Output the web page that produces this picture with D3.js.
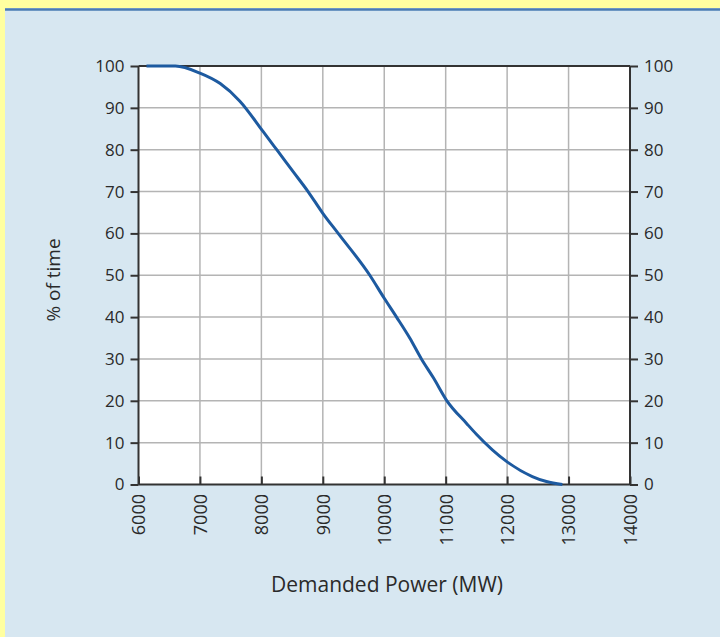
<!DOCTYPE html>
<html lang="en">
<head>
<meta charset="utf-8">
<title>Load duration curve</title>
<script src="https://d3js.org/d3.v7.min.js"></script>
<style>
    body { margin: 0; background: #ffffa0; }
    svg text { font-family: "Open Sans", sans-serif; fill: #2a2a2a; }
</style>
</head>
<body>
<script>
// demanded power (MW) vs % of time it is exceeded
var power = [6130, 6600, 7000, 7330, 7650, 8030, 8250, 8520, 8760, 9000, 9250, 9765, 10000, 10200, 10415, 10605, 10800, 11020, 11340, 11500, 12000, 12410, 12640, 12900];
var pct   = [100, 100, 98.3, 95.8, 91.6, 84.3, 80, 74.7, 70, 64.8, 60, 50, 44.5, 40, 35, 30, 25.5, 20, 14.6, 12, 5.4, 1.9, 0.7, 0];

var xTicks = [6000, 7000, 8000, 9000, 10000, 11000, 12000, 13000, 14000];
var yTicks = [0, 10, 20, 30, 40, 50, 60, 70, 80, 90, 100];

var W = 720, H = 637;
var pLeft = 138.5, pRight = 630, pTop = 66, pBottom = 484.5;

var svg = d3.select("body").append("svg")
    .attr("width", W).attr("height", H).style("display", "block");

// panel
svg.append("rect").attr("x", 5).attr("y", 8).attr("width", W - 5).attr("height", H - 8)
    .attr("fill", "#d7e7f1");
svg.append("line").attr("x1", 5).attr("x2", W).attr("y1", 9.5).attr("y2", 9.5)
    .attr("stroke", "#4a7cb3").attr("stroke-width", 2.5);

var x = d3.scaleLinear().domain([6000, 14000]).range([pLeft, pRight]);
var y = d3.scaleLinear().domain([0, 100]).range([pBottom, pTop]);

svg.append("rect").attr("x", pLeft).attr("y", pTop)
    .attr("width", pRight - pLeft).attr("height", pBottom - pTop).attr("fill", "#fff");

// grid
svg.append("g").selectAll("line").data(xTicks.slice(1, -1)).enter().append("line")
    .attr("x1", d => x(d)).attr("x2", d => x(d)).attr("y1", pTop).attr("y2", pBottom)
    .attr("stroke", "#b4b4b4").attr("stroke-width", 1.5);
svg.append("g").selectAll("line").data(yTicks.slice(1, -1)).enter().append("line")
    .attr("x1", pLeft).attr("x2", pRight).attr("y1", d => y(d)).attr("y2", d => y(d))
    .attr("stroke", "#b4b4b4").attr("stroke-width", 1.5);

// axes
var yl = svg.append("g").attr("transform", "translate(" + pLeft + ",0)")
    .call(d3.axisLeft(y).tickValues(yTicks).tickSize(8).tickPadding(6));
var yr = svg.append("g").attr("transform", "translate(" + pRight + ",0)")
    .call(d3.axisRight(y).tickValues(yTicks).tickSize(8).tickPadding(6));
var xb = svg.append("g").attr("transform", "translate(0," + pBottom + ")")
    .call(d3.axisBottom(x).tickValues(xTicks).tickSize(-8).tickFormat(d3.format("d")));
svg.append("line").attr("x1", pLeft).attr("x2", pRight).attr("y1", pTop).attr("y2", pTop)
    .attr("stroke", "#333").attr("stroke-width", 2);

[yl, yr, xb].forEach(function (g) {
    g.select(".domain").attr("stroke", "#333").attr("stroke-width", 2);
    g.selectAll(".tick line").attr("stroke", "#333").attr("stroke-width", 2);
    g.selectAll("text").style("font-size", "17px").attr("fill", "#2a2a2a");
});
yl.select(".domain").attr("d", "M0," + pTop + "V" + pBottom);
yr.select(".domain").attr("d", "M0," + pTop + "V" + pBottom);
xb.select(".domain").attr("d", "M" + pLeft + ",0H" + pRight);

xb.selectAll("text")
    .style("font-size", "18px")
    .attr("transform", "rotate(-90)")
    .attr("x", -9.5).attr("y", 0).attr("dy", "0.35em")
    .style("text-anchor", "end");

// curve
svg.append("path")
    .datum(power.map((p, i) => [p, pct[i]]))
    .attr("fill", "none").attr("stroke", "#1d5aa0").attr("stroke-width", 3)
    .attr("d", d3.line().x(d => x(d[0])).y(d => y(d[1])).curve(d3.curveMonotoneX));

// titles
svg.append("text").attr("transform", "translate(60,280) rotate(-90)")
    .attr("text-anchor", "middle").style("font-size", "19px").text("% of time");
svg.append("text").attr("x", 387).attr("y", 592)
    .attr("text-anchor", "middle").style("font-size", "21px").text("Demanded Power (MW)");
</script>
</body>
</html>
